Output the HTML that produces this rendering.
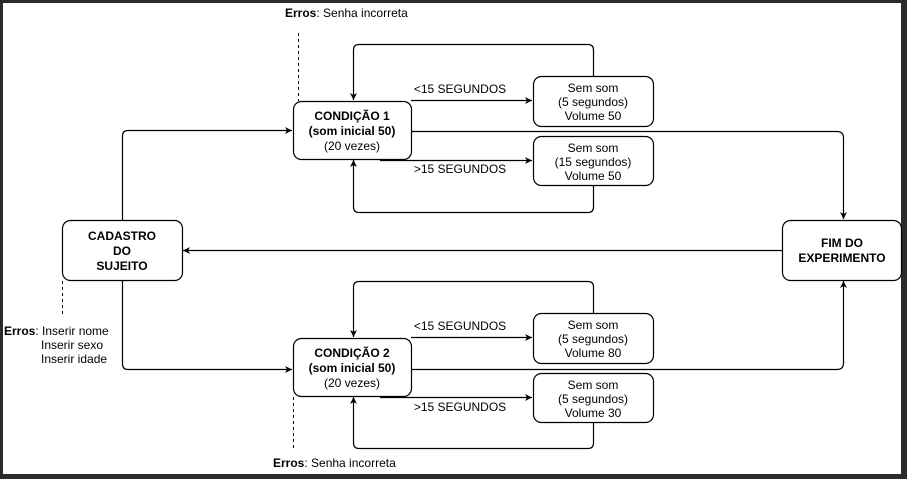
<!DOCTYPE html>
<html><head><meta charset="utf-8"><style>
html,body{margin:0;padding:0;background:#2b2b2b;}
svg{display:block;font-family:"Liberation Sans",Arial,sans-serif;font-size:12px;}
</style></head><body>
<svg width="907" height="479" viewBox="0 0 907 479" xmlns="http://www.w3.org/2000/svg">
<defs><marker id="a" markerWidth="8" markerHeight="8" refX="7" refY="4" orient="auto" markerUnits="userSpaceOnUse"><path d="M0,0.5 L7,4 L0,7.5 L2,4 Z" fill="#000"/></marker></defs>
<rect x="3" y="3" width="898" height="471" fill="#fff"/>
<g fill="none" stroke="#000" stroke-width="1.2">
<rect x="293.5" y="101.5" width="118" height="58" rx="8"/>
<rect x="533.5" y="76.5" width="120" height="50" rx="8"/>
<rect x="533.5" y="136.5" width="120" height="49" rx="8"/>
<rect x="62.5" y="220.5" width="120" height="60" rx="8"/>
<rect x="782.5" y="220.5" width="119" height="60" rx="8"/>
<rect x="293.5" y="338.5" width="118" height="58" rx="8"/>
<rect x="533.5" y="313.5" width="120" height="50" rx="8"/>
<rect x="533.5" y="373.5" width="120" height="49" rx="8"/>
<path d="M122.5,220 V136 Q122.5,130.5 128,130.5 H292" marker-end="url(#a)"/>
<path d="M122.5,281 V364 Q122.5,369.5 128,369.5 H292" marker-end="url(#a)"/>
<path d="M411,100.5 H532" marker-end="url(#a)"/>
<path d="M380,160.5 H532" marker-end="url(#a)"/>
<path d="M593.5,76 V50 Q593.5,44.5 588,44.5 H359 Q353.5,44.5 353.5,50 V100" marker-end="url(#a)"/>
<path d="M593.5,186 V207 Q593.5,212.5 588,212.5 H359 Q353.5,212.5 353.5,207 V160" marker-end="url(#a)"/>
<path d="M411,131.5 H837 Q843.5,131.5 843.5,138 V219" marker-end="url(#a)"/>
<path d="M782,250.5 H183" marker-end="url(#a)"/>
<path d="M411,369.5 H837 Q843.5,369.5 843.5,363 V281" marker-end="url(#a)"/>
<path d="M411,337.5 H532" marker-end="url(#a)"/>
<path d="M380,397.5 H532" marker-end="url(#a)"/>
<path d="M593.5,313 V287 Q593.5,281.5 588,281.5 H359 Q353.5,281.5 353.5,287 V337" marker-end="url(#a)"/>
<path d="M593.5,423 V443 Q593.5,448.5 588,448.5 H359 Q353.5,448.5 353.5,443 V397" marker-end="url(#a)"/>
<g stroke-dasharray="3,3" stroke-width="1"><path d="M298.5,33 V101"/><path d="M62.5,281 V315"/><path d="M293.5,397 V450"/></g>
</g>
<g text-anchor="middle" fill="#000">
<text x="352" y="120" font-weight="bold">CONDIÇÃO 1</text>
<text x="352" y="135" font-weight="bold">(som inicial 50)</text>
<text x="352" y="150">(20 vezes)</text>
<text x="352" y="357" font-weight="bold">CONDIÇÃO 2</text>
<text x="352" y="372" font-weight="bold">(som inicial 50)</text>
<text x="352" y="387">(20 vezes)</text>
<text x="593" y="92">Sem som</text><text x="593" y="106">(5 segundos)</text><text x="593" y="120">Volume 50</text>
<text x="593" y="152">Sem som</text><text x="593" y="166">(15 segundos)</text><text x="593" y="180">Volume 50</text>
<text x="593" y="329">Sem som</text><text x="593" y="343">(5 segundos)</text><text x="593" y="357">Volume 80</text>
<text x="593" y="389">Sem som</text><text x="593" y="403">(5 segundos)</text><text x="593" y="417">Volume 30</text>
<g font-weight="bold"><text x="122" y="240">CADASTRO</text><text x="122" y="255">DO</text><text x="122" y="270">SUJEITO</text>
<text x="842" y="247">FIM DO</text><text x="842" y="262">EXPERIMENTO</text></g>
<text x="460" y="93">&lt;15 SEGUNDOS</text>
<text x="460" y="173">&gt;15 SEGUNDOS</text>
<text x="460" y="330">&lt;15 SEGUNDOS</text>
<text x="460" y="411">&gt;15 SEGUNDOS</text>
</g>
<g fill="#000">
<text x="285" y="17"><tspan font-weight="bold">Erros</tspan>: Senha incorreta</text>
<text x="273" y="467"><tspan font-weight="bold">Erros</tspan>: Senha incorreta</text>
<text x="4" y="335"><tspan font-weight="bold">Erros</tspan>: Inserir nome</text>
<text x="41" y="349">Inserir sexo</text>
<text x="41" y="363">Inserir idade</text>
</g>
</svg>
</body></html>
